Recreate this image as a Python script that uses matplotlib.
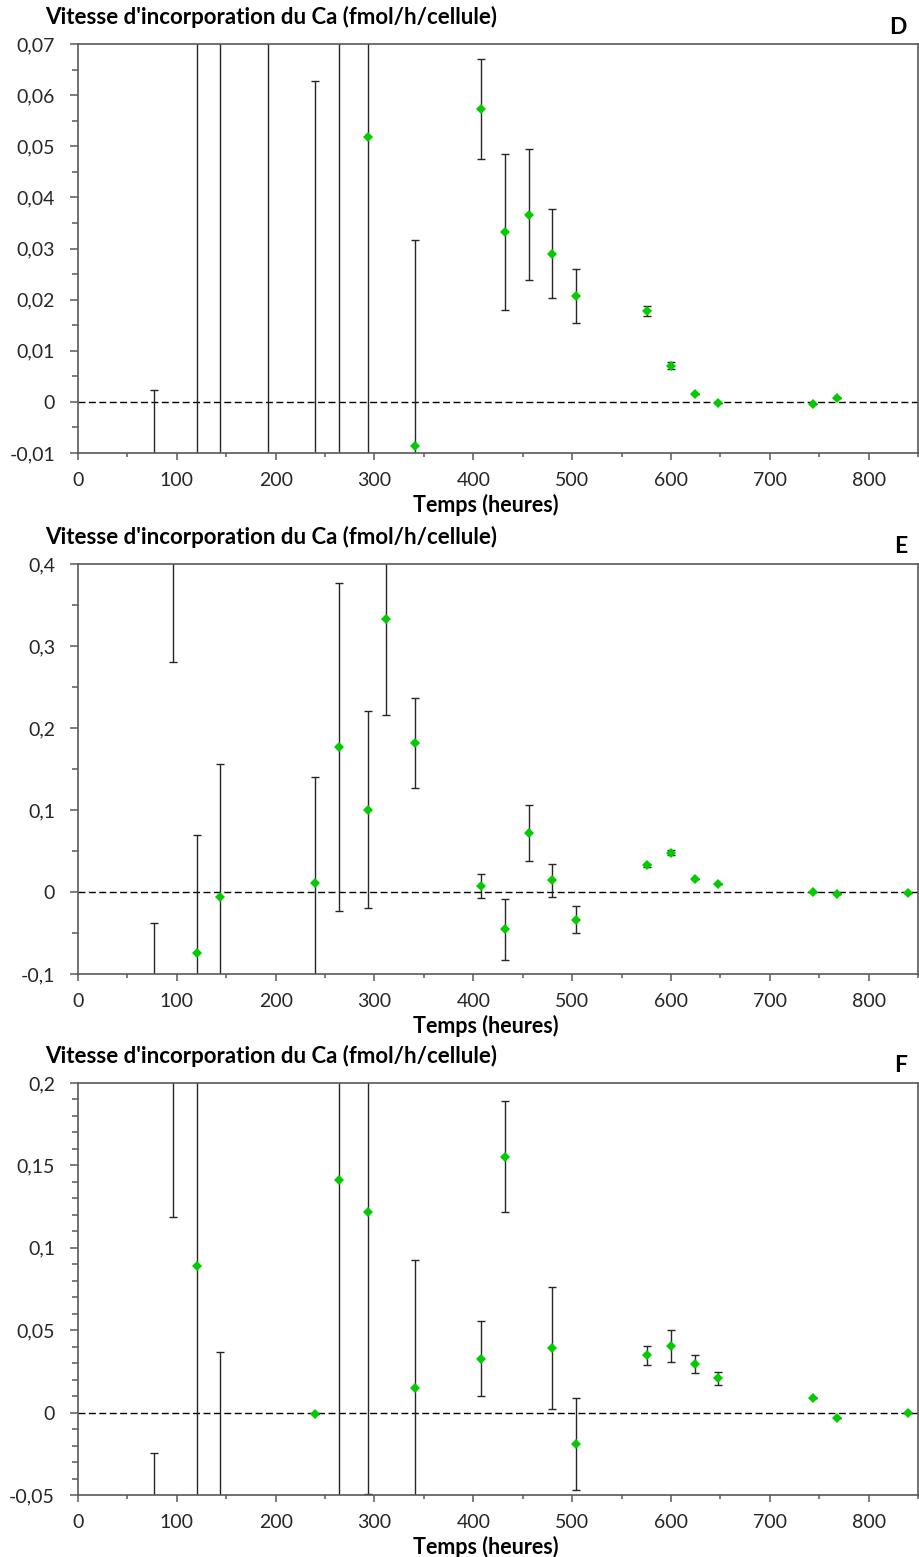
import matplotlib
matplotlib.use('Agg')
import matplotlib.pyplot as plt
from matplotlib.ticker import MultipleLocator, FuncFormatter

plt.rcParams['font.family'] = ['Lato', 'DejaVu Sans']

# Panel D - times (h), rates, error (+/-); points outside the axis range are estimated
t_D = [77, 120, 144, 192, 240, 264, 293, 341, 408, 432, 456, 480, 504, 576, 600, 624, 648, 744, 768]
v_D = [-0.03, 0.10, -0.05, 0.09, -0.02, 0.08, 0.0518, -0.0087, 0.0573, 0.0332, 0.0366, 0.029,
       0.0207, 0.0177, 0.0071, 0.0015, -0.0003, -0.0005, 0.0008]
e_D = [0.0323, 0.15, 0.15, 0.15, 0.0827, 0.12, 0.09, 0.0404, 0.0098, 0.0152, 0.0128, 0.0087,
       0.0053, 0.001, 0.0007, 0, 0, 0, 0]

# Panel E
t_E = [77, 96, 120, 144, 240, 264, 293, 312, 341, 408, 432, 456, 480, 504, 576, 600, 624, 648, 744, 768, 840]
v_E = [-0.15, 0.45, -0.0746, -0.006, 0.0105, 0.1765, 0.1004, 0.333, 0.1814, 0.0073, -0.0457, 0.072,
       0.0142, -0.0336, 0.0324, 0.0478, 0.0154, 0.0093, 0.0, -0.003, -0.001]
e_E = [0.1117, 0.169, 0.1436, 0.1626, 0.1295, 0.2, 0.12, 0.1166, 0.055, 0.0145, 0.037, 0.034,
       0.02, 0.016, 0.002, 0.003, 0, 0, 0, 0, 0]

# Panel F
t_F = [77, 96, 120, 144, 240, 264, 293, 341, 408, 432, 480, 504, 576, 600, 624, 648, 744, 768, 840]
v_F = [-0.08, 0.25, 0.0888, -0.07, -0.001, 0.141, 0.122, 0.0147, 0.0327, 0.1553, 0.0394, -0.0192,
       0.0347, 0.0404, 0.0294, 0.0208, 0.0086, -0.003, 0.0]
e_F = [0.0557, 0.1313, 0.2, 0.1067, 0, 0.25, 0.1712, 0.0776, 0.0228, 0.0337, 0.037, 0.028,
       0.006, 0.0095, 0.0054, 0.004, 0, 0, 0]

panels = [
    ('D', t_D, v_D, e_D, (-0.01, 0.07), 0.01, 0.005, 44, 453),
    ('E', t_E, v_E, e_E, (-0.1, 0.4), 0.1, 0.05, 564, 974),
    ('F', t_F, v_F, e_F, (-0.05, 0.2), 0.05, 0.01, 1083, 1495),
]

W, H = 920, 1557
fig = plt.figure(figsize=(W / 100, H / 100), dpi=100)
title = "Vitesse d'incorporation du Ca (fmol/h/cellule)"
axis_col = '#595959'


def fmt(v, pos):
    s = f'{v:.2f}'.rstrip('0').rstrip('.')
    if s in ('-0', ''):
        s = '0'
    return s.replace('.', ',')


for letter, t, v, e, ylim, major, minor, top, bottom in panels:
    ax = fig.add_axes([78 / W, 1 - bottom / H, 840 / W, (bottom - top) / H])
    ax.axhline(0, color='black', lw=1.0, ls=(0, (5, 2.5)), zorder=1)
    ax.errorbar(t, v, yerr=e, fmt='none', ecolor='#262626', elinewidth=1.0,
                capsize=3, capthick=1.0, zorder=2)
    ax.plot(t, v, 'D', color='#00cc00', markersize=5.6, markeredgewidth=0, zorder=3)
    ax.set_xlim(0, 850)
    ax.set_ylim(*ylim)
    ax.xaxis.set_major_locator(MultipleLocator(100))
    ax.xaxis.set_minor_locator(MultipleLocator(50))
    ax.yaxis.set_major_locator(MultipleLocator(major))
    ax.yaxis.set_minor_locator(MultipleLocator(minor))
    ax.yaxis.set_major_formatter(FuncFormatter(fmt))
    for s in ax.spines.values():
        s.set_color(axis_col)
        s.set_linewidth(1.2)
    ax.tick_params(axis='x', which='major', direction='out', length=5, width=1.1,
                   color=axis_col, labelsize=14, labelcolor='#262626', pad=9)
    ax.tick_params(axis='x', which='minor', direction='out', length=3, width=1.1, color=axis_col)
    ax.tick_params(axis='y', which='major', direction='out', length=5.5, width=1.1,
                   color=axis_col, labelsize=14, labelcolor='#262626', pad=11)
    ax.tick_params(axis='y', which='minor', direction='out', length=4.3, width=1.1, color=axis_col)

    fig.text(45 / W, 1 - (top - 27) / H, title, ha='left', va='center',
             fontsize=16, fontweight='bold')
    fig.text(907 / W, 1 - (top - 17) / H, letter, ha='right', va='center',
             fontsize=16.5, fontweight='bold')
    fig.text(486 / W, 1 - (bottom + 52) / H, 'Temps (heures)', ha='center', va='center',
             fontsize=15.5, fontweight='bold')

fig.savefig('out.png', dpi=100)
